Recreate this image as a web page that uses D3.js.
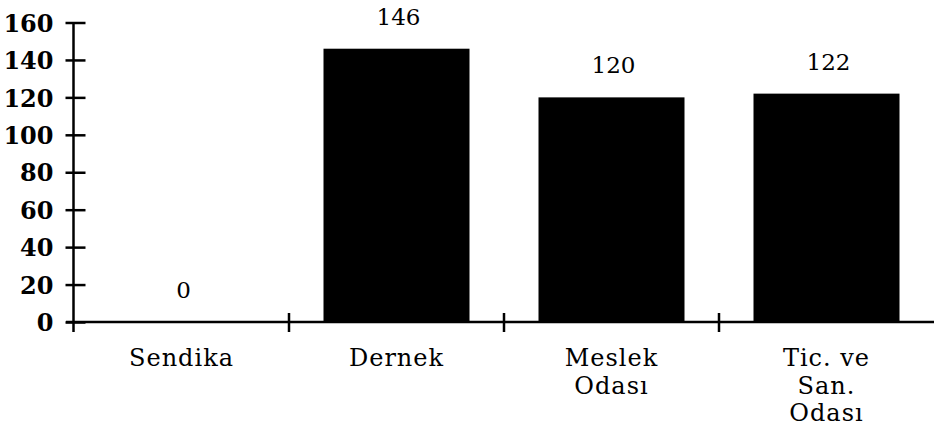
<!DOCTYPE html>
<html>
<head>
<meta charset="utf-8">
<script src="https://cdn.jsdelivr.net/npm/d3@7"></script>
<style>
  html, body { margin: 0; padding: 0; background: #fff; }
  svg { display: block; }
</style>
</head>
<body>
<svg id="chart" width="934" height="439"></svg>
<script>
const categories = ["Sendika", "Dernek", "Meslek Odası", "Tic. ve San. Odası"];
const categoryLines = [["Sendika"], ["Dernek"], ["Meslek", "Odası"], ["Tic. ve", "San.", "Odası"]];
const values = [0, 146, 120, 122];
const yTicks = [0, 20, 40, 60, 80, 100, 120, 140, 160];

const svg = d3.select("#chart");
const x0 = 74, x1 = 934, yTop = 22.5, yBottom = 322;

const x = d3.scaleBand().domain(categories).range([x0, x1]).padding(0);
const y = d3.scaleLinear().domain([0, 160]).range([yBottom, yTop]);
const barW = 146;

// bars
svg.append("g").selectAll("rect").data(values).join("rect")
  .attr("x", (d, i) => x(categories[i]) + (x.bandwidth() - barW) / 2)
  .attr("y", d => y(d))
  .attr("width", barW)
  .attr("height", d => y(0) - y(d))
  .attr("fill", "#000");

// value labels
svg.append("g").selectAll("text").data(values).join("text")
  .attr("x", (d, i) => x(categories[i]) + x.bandwidth() / 2 + 2)
  .attr("y", d => y(d) - 24)
  .attr("text-anchor", "middle")
  .attr("font-family", "DejaVu Serif")
  .attr("font-size", 23)
  .attr("fill", "#000")
  .text(d => d);

// y axis
const yAxis = svg.append("g")
  .attr("transform", `translate(${x0 - 0.5},0)`)
  .call(d3.axisLeft(y).tickValues(yTicks).tickSizeInner(8).tickSizeOuter(0).tickPadding(12));
yAxis.select(".domain").remove();
yAxis.selectAll(".tick line").attr("x1", 12).attr("stroke", "#000").attr("stroke-width", 2.5);
yAxis.selectAll(".tick text")
  .attr("font-family", "DejaVu Serif")
  .attr("font-weight", "bold")
  .attr("font-size", 24)
  .attr("fill", "#000")
  .attr("dy", "0.36em");
svg.append("line")
  .attr("x1", x0 - 0.5).attr("x2", x0 - 0.5)
  .attr("y1", y(160)).attr("y2", y(0) + 10)
  .attr("stroke", "#000").attr("stroke-width", 2.5);

// x axis
svg.append("line")
  .attr("x1", x0 - 8).attr("x2", x1)
  .attr("y1", y(0)).attr("y2", y(0))
  .attr("stroke", "#000").attr("stroke-width", 2.5);
svg.append("g").selectAll("line").data(categories.slice(0, -1)).join("line")
  .attr("x1", d => x(d) + x.bandwidth()).attr("x2", d => x(d) + x.bandwidth())
  .attr("y1", y(0) - 9).attr("y2", y(0) + 10)
  .attr("stroke", "#000").attr("stroke-width", 2.5);

// category labels
const lab = svg.append("g").selectAll("text").data(categories).join("text")
  .attr("text-anchor", "middle")
  .attr("font-family", "DejaVu Serif")
  .attr("font-size", 24)
  .attr("letter-spacing", "1px")
  .attr("fill", "#000");
lab.each(function(d, i) {
  const t = d3.select(this);
  categoryLines[i].forEach((line, j) => {
    t.append("tspan")
      .attr("x", x(d) + x.bandwidth() / 2)
      .attr("y", 366 + j * 27.5)
      .text(line);
  });
});
</script>
</body>
</html>
